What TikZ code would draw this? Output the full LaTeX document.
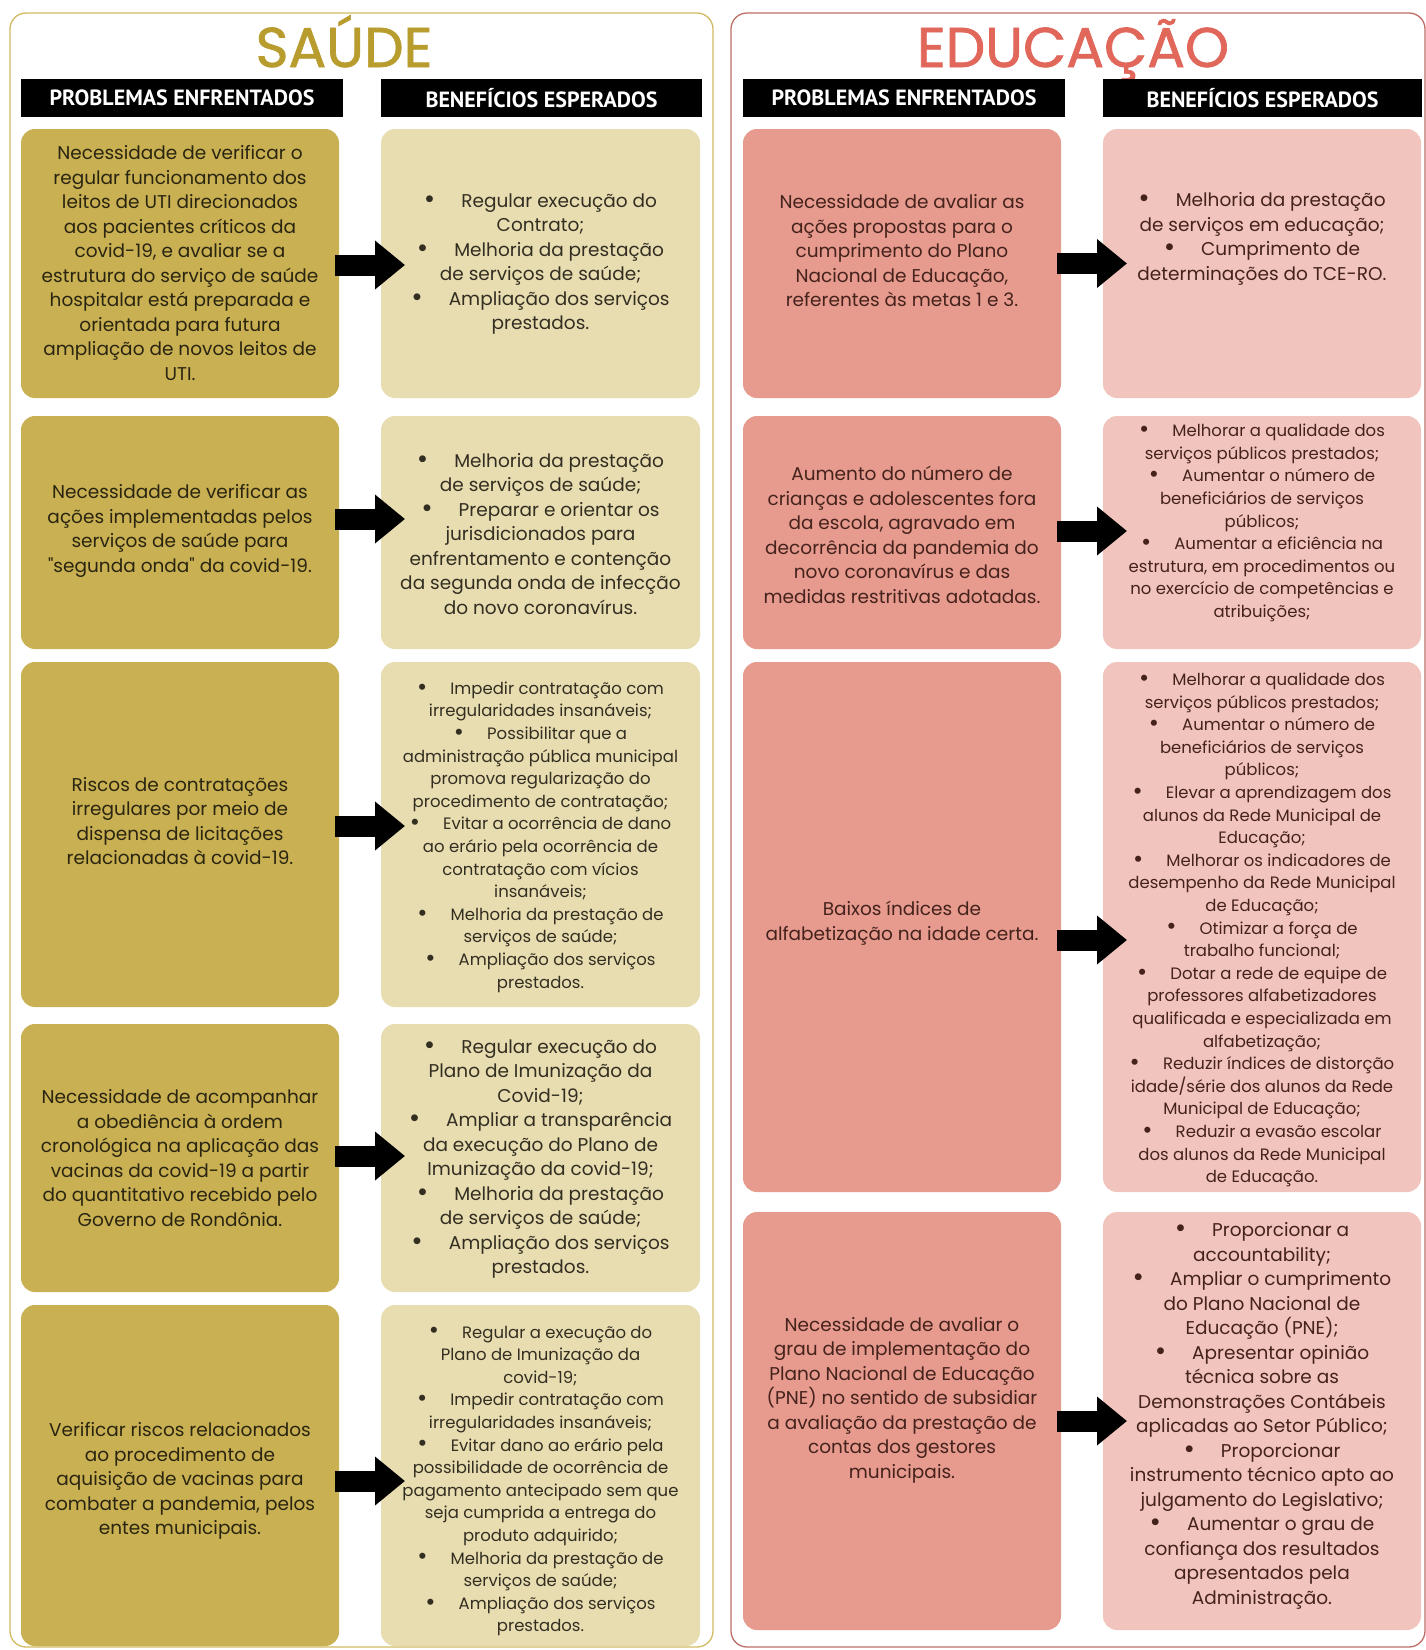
\documentclass[tikz,border=0pt]{standalone}
\usepackage{fontspec}
\setmainfont{Poppins}
\newfontfamily\hdfont{PT Sans}
\newfontfamily\ttlfont{Poppins}[FakeBold=1.2]
\newfontfamily\qfont{Poppins}[Ligatures=TeXOff]
\usetikzlibrary{arrows.meta,calc}
\definecolor{sprob}{HTML}{C9B052}
\definecolor{sben}{HTML}{E8DDB0}
\definecolor{eprob}{HTML}{E69B8E}
\definecolor{eben}{HTML}{F1C5BD}
\definecolor{sborder}{HTML}{D2BA62}
\definecolor{eborder}{HTML}{BE6E66}
\definecolor{stitle}{HTML}{B89C2E}
\definecolor{etitle}{HTML}{E0675A}
\definecolor{stext}{HTML}{2A2510}
\definecolor{sbtext}{HTML}{332E22}
\definecolor{etext}{HTML}{45221C}
\newcommand\bu{\raisebox{-0.05em}{\scalebox{1.5}{\textbullet}}\hspace{1.4em}}
\newcommand\sq{{\qfont"}}
\begin{document}
\begin{tikzpicture}[x=1pt,y=-1pt,
  panel/.style={rounded corners=16pt, line width=1.3pt},
  boxst/.style={rounded corners=14pt, inner sep=0pt, outer sep=0pt, anchor=north west},
  hdr/.style={fill=black, text=white, inner sep=0pt, minimum height=38pt, font=\hdfont\bfseries\fontsize{22}{24}\selectfont},
  txt/.style={align=center, inner sep=0pt, font=\fontsize{18.5}{24.5}\selectfont},
  stxt/.style={align=center, inner sep=0pt, font=\fontsize{16.5}{22.6}\selectfont},
  ttl/.style={anchor=base, font=\ttlfont\fontsize{56}{60}\selectfont},
  bigarr/.style={line width=21pt, draw=black, -{Triangle[length=30pt,width=47pt]}}
]
\useasboundingbox (0,0) rectangle (1426,1650);
\fill[white] (0,0) rectangle (1426,1650);

% panels
\draw[panel, draw=sborder] (10,13) rectangle (713,1647);
\draw[panel, draw=eborder] (731,13) rectangle (1425,1647);

% titles
\node[ttl, text=stitle] (tS) at (344,67) {SAÚDE};
\node[ttl, text=etitle] (tE) at (1073,67) {EDUCAÇÃO};

% headers
\node[hdr, minimum width=322pt] (h1) at (182,98) {PROBLEMAS ENFRENTADOS};
\node[hdr, minimum width=321pt] (h2) at (541.5,98) {BENEFÍCIOS ESPERADOS};
\node[hdr, minimum width=322pt] (h3) at (904,98) {PROBLEMAS ENFRENTADOS};
\node[hdr, minimum width=319pt] (h4) at (1262.5,98) {BENEFÍCIOS ESPERADOS};

% SAUDE boxes
\node[boxst, fill=sprob, minimum width=318pt, minimum height=269pt] (sp1) at (21,129) {};
\node[boxst, fill=sben,  minimum width=319pt, minimum height=269pt] (sb1) at (381,129) {};
\node[boxst, fill=sprob, minimum width=318pt, minimum height=233pt] (sp2) at (21,416) {};
\node[boxst, fill=sben,  minimum width=319pt, minimum height=233pt] (sb2) at (381,416) {};
\node[boxst, fill=sprob, minimum width=318pt, minimum height=345pt] (sp3) at (21,662) {};
\node[boxst, fill=sben,  minimum width=319pt, minimum height=345pt] (sb3) at (381,662) {};
\node[boxst, fill=sprob, minimum width=318pt, minimum height=268pt] (sp4) at (21,1024) {};
\node[boxst, fill=sben,  minimum width=319pt, minimum height=268pt] (sb4) at (381,1024) {};
\node[boxst, fill=sprob, minimum width=318pt, minimum height=341pt] (sp5) at (21,1305) {};
\node[boxst, fill=sben,  minimum width=319pt, minimum height=341pt] (sb5) at (381,1305) {};

% EDUCACAO boxes
\node[boxst, fill=eprob, minimum width=318pt, minimum height=269pt] (ep1) at (743,129) {};
\node[boxst, fill=eben,  minimum width=318pt, minimum height=269pt] (eb1) at (1103,129) {};
\node[boxst, fill=eprob, minimum width=318pt, minimum height=233pt] (ep2) at (743,416) {};
\node[boxst, fill=eben,  minimum width=318pt, minimum height=233pt] (eb2) at (1103,416) {};
\node[boxst, fill=eprob, minimum width=318pt, minimum height=530pt] (ep3) at (743,662) {};
\node[boxst, fill=eben,  minimum width=318pt, minimum height=530pt] (eb3) at (1103,662) {};
\node[boxst, fill=eprob, minimum width=318pt, minimum height=418pt] (ep4) at (743,1212) {};
\node[boxst, fill=eben,  minimum width=318pt, minimum height=418pt] (eb4) at (1103,1212) {};

% SAUDE texts
\node[txt, text=stext] (tsp1) at (180,263) {Necessidade de verificar o\\regular funcionamento dos\\leitos de UTI direcionados\\aos pacientes críticos da\\covid-19, e avaliar se a\\estrutura do serviço de saúde\\hospitalar está preparada e\\orientada para futura\\ampliação de novos leitos de\\UTI.};
\node[txt, text=sbtext] (tsb1) at (540.5,264) {\bu Regular execução do\\Contrato;\\\bu Melhoria da prestação\\de serviços de saúde;\\\bu Ampliação dos serviços\\prestados.};
\node[txt, text=stext] (tsp2) at (180,531) {Necessidade de verificar as\\ações implementadas pelos\\serviços de saúde para\\\sq segunda onda\sq\ da covid-19.};
\node[txt, text=sbtext] (tsb2) at (540.5,534) {\bu Melhoria da prestação\\de serviços de saúde;\\\bu Preparar e orientar os\\jurisdicionados para\\enfrentamento e contenção\\da segunda onda de infecção\\do novo coronavírus.};
\node[txt, text=stext] (tsp3) at (180,821) {Riscos de contratações\\irregulares por meio de\\dispensa de licitações\\relacionadas à covid-19.};
\node[stxt, text=sbtext] (tsb3) at (540.5,837) {\bu Impedir contratação com\\irregularidades insanáveis;\\\bu Possibilitar que a\\administração pública municipal\\promova regularização do\\procedimento de contratação;\\\bu Evitar a ocorrência de dano\\ao erário pela ocorrência de\\contratação com vícios\\insanáveis;\\\bu Melhoria da prestação de\\serviços de saúde;\\\bu Ampliação dos serviços\\prestados.};
\node[txt, text=stext] (tsp4) at (180,1158) {Necessidade de acompanhar\\a obediência à ordem\\cronológica na aplicação das\\vacinas da covid-19 a partir\\do quantitativo recebido pelo\\Governo de Rondônia.};
\node[txt, text=sbtext] (tsb4) at (540.5,1159) {\bu Regular execução do\\Plano de Imunização da\\Covid-19;\\\bu Ampliar a transparência\\da execução do Plano de\\Imunização da covid-19;\\\bu Melhoria da prestação\\de serviços de saúde;\\\bu Ampliação dos serviços\\prestados.};
\node[txt, text=stext] (tsp5) at (180,1481) {Verificar riscos relacionados\\ao procedimento de\\aquisição de vacinas para\\combater a pandemia, pelos\\entes municipais.};
\node[stxt, text=sbtext] (tsb5) at (540.5,1481) {\bu Regular a execução do\\Plano de Imunização da\\covid-19;\\\bu Impedir contratação com\\irregularidades insanáveis;\\\bu Evitar dano ao erário pela\\possibilidade de ocorrência de\\pagamento antecipado sem que\\seja cumprida a entrega do\\produto adquirido;\\\bu Melhoria da prestação de\\serviços de saúde;\\\bu Ampliação dos serviços\\prestados.};

% EDUCACAO texts
\node[txt, text=etext] (tep1) at (902,251) {Necessidade de avaliar as\\ações propostas para o\\cumprimento do Plano\\Nacional de Educação,\\referentes às metas 1 e 3.};
\node[txt, text=etext] (teb1) at (1262,239) {\bu Melhoria da prestação\\de serviços em educação;\\\bu Cumprimento de\\determinações do TCE-RO.};
\node[txt, text=etext] (tep2) at (902,535) {Aumento do número de\\crianças e adolescentes fora\\da escola, agravado em\\decorrência da pandemia do\\novo coronavírus e das\\medidas restritivas adotadas.};
\node[stxt, text=etext] (teb2) at (1262,523) {\bu Melhorar a qualidade dos\\serviços públicos prestados;\\\bu Aumentar o número de\\beneficiários de serviços\\públicos;\\\bu Aumentar a eficiência na\\estrutura, em procedimentos ou\\no exercício de competências e\\atribuições;};
\node[txt, text=etext] (tep3) at (902,923) {Baixos índices de\\alfabetização na idade certa.};
\node[stxt, text=etext] (teb3) at (1262,930) {\bu Melhorar a qualidade dos\\serviços públicos prestados;\\\bu Aumentar o número de\\beneficiários de serviços\\públicos;\\\bu Elevar a aprendizagem dos\\alunos da Rede Municipal de\\Educação;\\\bu Melhorar os indicadores de\\desempenho da Rede Municipal\\de Educação;\\\bu Otimizar a força de\\trabalho funcional;\\\bu Dotar a rede de equipe de\\professores alfabetizadores\\qualificada e especializada em\\alfabetização;\\\bu Reduzir índices de distorção\\idade/série dos alunos da Rede\\Municipal de Educação;\\\bu Reduzir a evasão escolar\\dos alunos da Rede Municipal\\de Educação.};
\node[txt, text=etext] (tep4) at (902,1400) {Necessidade de avaliar o\\grau de implementação do\\Plano Nacional de Educação\\(PNE) no sentido de subsidiar\\a avaliação da prestação de\\contas dos gestores\\municipais.};
\node[txt, text=etext] (teb4) at (1262,1416) {\bu Proporcionar a\\accountability;\\\bu Ampliar o cumprimento\\do Plano Nacional de\\Educação (PNE);\\\bu Apresentar opinião\\técnica sobre as\\Demonstrações Contábeis\\aplicadas ao Setor Público;\\\bu Proporcionar\\instrumento técnico apto ao\\julgamento do Legislativo;\\\bu Aumentar o grau de\\confiança dos resultados\\apresentados pela\\Administração.};

% arrows
\draw[bigarr] ($(sp1.east)+(-4,1.5)$) -- ($(sb1.west)+(24,1.5)$);
\draw[bigarr] ($(sp2.east)+(-4,-13.5)$) -- ($(sb2.west)+(24,-13.5)$);
\draw[bigarr] ($(sp3.east)+(-4,-8.5)$) -- ($(sb3.west)+(24,-8.5)$);
\draw[bigarr] ($(sp4.east)+(-4,-2)$) -- ($(sb4.west)+(24,-2)$);
\draw[bigarr] ($(sp5.east)+(-4,5.5)$) -- ($(sb5.west)+(24,5.5)$);
\draw[bigarr] ($(ep1.east)+(-4,0)$) -- ($(eb1.west)+(24,0)$);
\draw[bigarr] ($(ep2.east)+(-4,-1.5)$) -- ($(eb2.west)+(24,-1.5)$);
\draw[bigarr] ($(ep3.east)+(-4,13)$) -- ($(eb3.west)+(24,13)$);
\draw[bigarr] ($(ep4.east)+(-4,0)$) -- ($(eb4.west)+(24,0)$);
\end{tikzpicture}
\end{document}
